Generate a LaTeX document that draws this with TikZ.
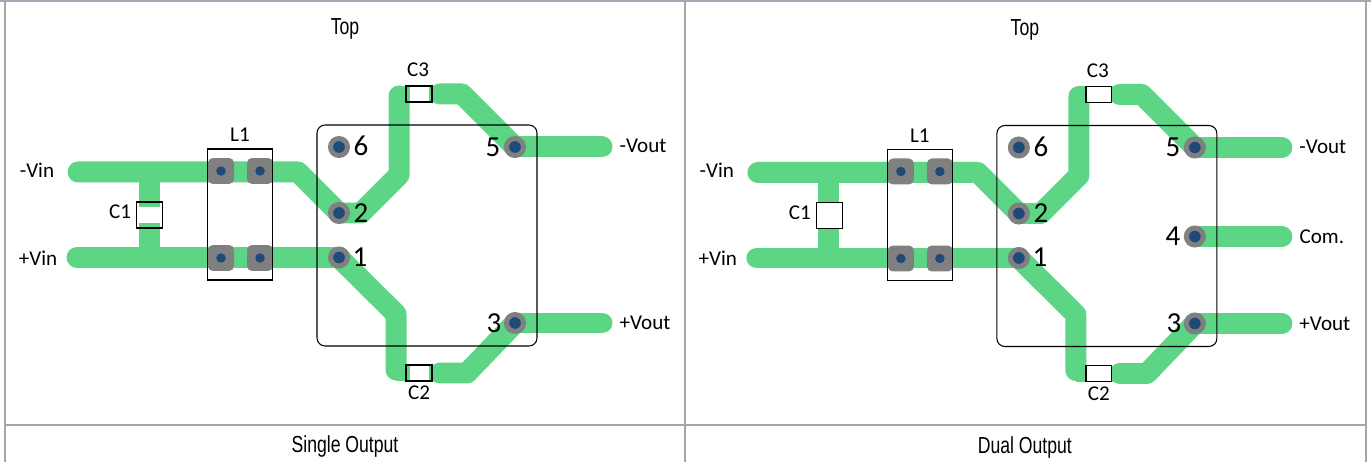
\documentclass[tikz,border=0pt]{standalone}
\usepackage{fontspec}
\setmainfont{Carlito}
\newfontfamily\headfont[FakeStretch=0.76]{Liberation Sans}
\usepackage{tikz}
\usetikzlibrary{positioning}

\definecolor{tracegreen}{HTML}{5CD685}
\definecolor{padgray}{HTML}{808080}
\definecolor{holeblue}{HTML}{1F4A78}
\definecolor{gridgray}{HTML}{A6A6A6}
\definecolor{topgray}{HTML}{9FAAB4}

\tikzset{
	trace/.style={tracegreen, line width=0.42cm, line cap=round, line join=round},
	padbox/.style={fill=padgray, rounded corners=0.1cm, minimum size=0.52cm, inner sep=0},
	paddot/.style={circle, fill=holeblue, minimum size=0.19cm, inner sep=0},
	pinhole/.style={circle, fill=holeblue, draw=padgray, line width=0.1cm, minimum size=0.34cm, inner sep=0},
	capbox/.style={draw=black, line width=0.7pt, minimum width=0.52cm, minimum height=0.32cm, inner sep=0},
	capwhite/.style={fill=white, minimum height=0.32cm, inner sep=0},
	part/.style={font=\fontsize{12}{14}\selectfont, inner sep=0},
	pinnum/.style={font=\fontsize{16.5}{18}\selectfont, inner sep=0},
	headtext/.style={font=\headfont\fontsize{13.2}{15}\selectfont, inner sep=0},
	gridline/.style={gridgray, line width=1.5pt}
}

% #1 is the width of the white part of C2 and C3, #2 the height of the white part of C1
\newcommand{\boardpanel}[2]{
	\coordinate (inN) at (78,172);
	\coordinate (inP) at (77,257.5);
	\coordinate (pinT) at (339,147);
	\coordinate (pinB) at (339,213);
	\coordinate (pinA) at (339,257.5);
	\coordinate (pinE) at (515,147);
	\coordinate (pinC) at (515,323);
	\coordinate (outN) at (602,147);
	\coordinate (outP) at (602,323);
	
	\draw [trace] (inN) -- (298,172) -- (pinB);
	\draw [trace] (inP) -- (pinA);
	\draw [trace, line cap=butt] (149,172) -- (149,258);
	\draw [trace] (pinB) -- (361,213) -- (399,175) -- (399,96);
	\draw [trace] (pinA) -- (396,314) -- (396,370);
	\draw [trace] (440,94) -- (462,94) -- (pinE);
	\draw [trace] (440,373) -- (467,373) -- (pinC);
	\draw [trace] (pinE) -- (outN);
	\draw [trace] (pinC) -- (outP);
	\fill [tracegreen] (399,86) rectangle (433,102);
	\fill [tracegreen] (396,365) rectangle (433,381);
	
	\foreach \padname/\padx/\pady in {pa/221/171, pb/260/171, pc/221/258, pd/260/258} {
		\node [padbox] (\padname) at (\padx,\pady) {};
		\node [paddot] at (\padname) {};
	}
	\draw [line width=0.6pt] (207.5,149) rectangle (272.5,280);
	\draw [line width=0.6pt, rounded corners=0.16cm] (317,125) rectangle (537,346);
	
	\node [capwhite, minimum width=#1] (wthree) at (419,94) {};
	\node [capbox] (cthree) at (419,94) {};
	\node [capwhite, minimum width=#1] (wtwo) at (419,373) {};
	\node [capbox] (ctwo) at (419,373) {};
	\node [capwhite, minimum width=0.5cm, minimum height=#2] (wone) at (149.5,215) {};
	\node [capbox, minimum height=0.52cm] (cone) at (149.5,215) {};
	
	\node [pinhole] (hT) at (pinT) {};
	\node [pinhole] (hB) at (pinB) {};
	\node [pinhole] (hA) at (pinA) {};
	\node [pinhole] (hE) at (pinE) {};
	\node [pinhole] (hC) at (pinC) {};
	
	\node [pinnum] (nT) at (361,146) {6};
	\node [pinnum] (nB) at (361,213) {2};
	\node [pinnum] (nA) at (360,257) {1};
	\node [pinnum] (nE) at (493,147) {5};
	\node [pinnum] (nC) at (494,323) {3};
	
	\node [part] (lN) at (37,170) {-Vin};
	\node [part] (lP) at (38,258) {+Vin};
	\node [part] (lone) at (120,212) {C1};
	\node [part] (lL) at (240,135) {L1};
	\node [part] (lthree) at (418,70) {C3};
	\node [part] (ltwo) at (419,393) {C2};
	\node [part] (loN) at (643,146) {-Vout};
	\node [part] (loP) at (645,323) {+Vout};
	\node [headtext] (top) at (345,29) {Top};
}

\begin{document}
\begin{tikzpicture}[x=0.02cm, y=-0.02cm]
	
	\useasboundingbox (0,0) rectangle (1371,462);
	\fill [white] (0,0) rectangle (1371,462);
	
	\draw [gridline, color=topgray] (0,1) -- (1371,1);
	\draw [gridline] (5,1) -- (5,462);
	\draw [gridline] (685,1) -- (685,462);
	\draw [gridline] (1366,1) -- (1366,462);
	\draw [gridline] (5,425) -- (1366,425);
	
	\begin{scope}
		\boardpanel{0.38cm}{0.32cm}
		\node [headtext] (single) at (345,447) {Single Output};
	\end{scope}
	
	\begin{scope}[xshift=13.6cm, yshift=-0.01cm]
		\coordinate (pinF) at (515,236);
		\coordinate (outC) at (602,236);
		\draw [trace] (pinF) -- (outC);
		\boardpanel{0.52cm}{0.52cm}
		\node [pinhole] (hF) at (pinF) {};
		\node [pinnum] (nF) at (493,236) {4};
		\node [part] (loC) at (642,236) {Com.};
		\node [headtext] (dual) at (345,447) {Dual Output};
	\end{scope}
	
\end{tikzpicture}
\end{document}
